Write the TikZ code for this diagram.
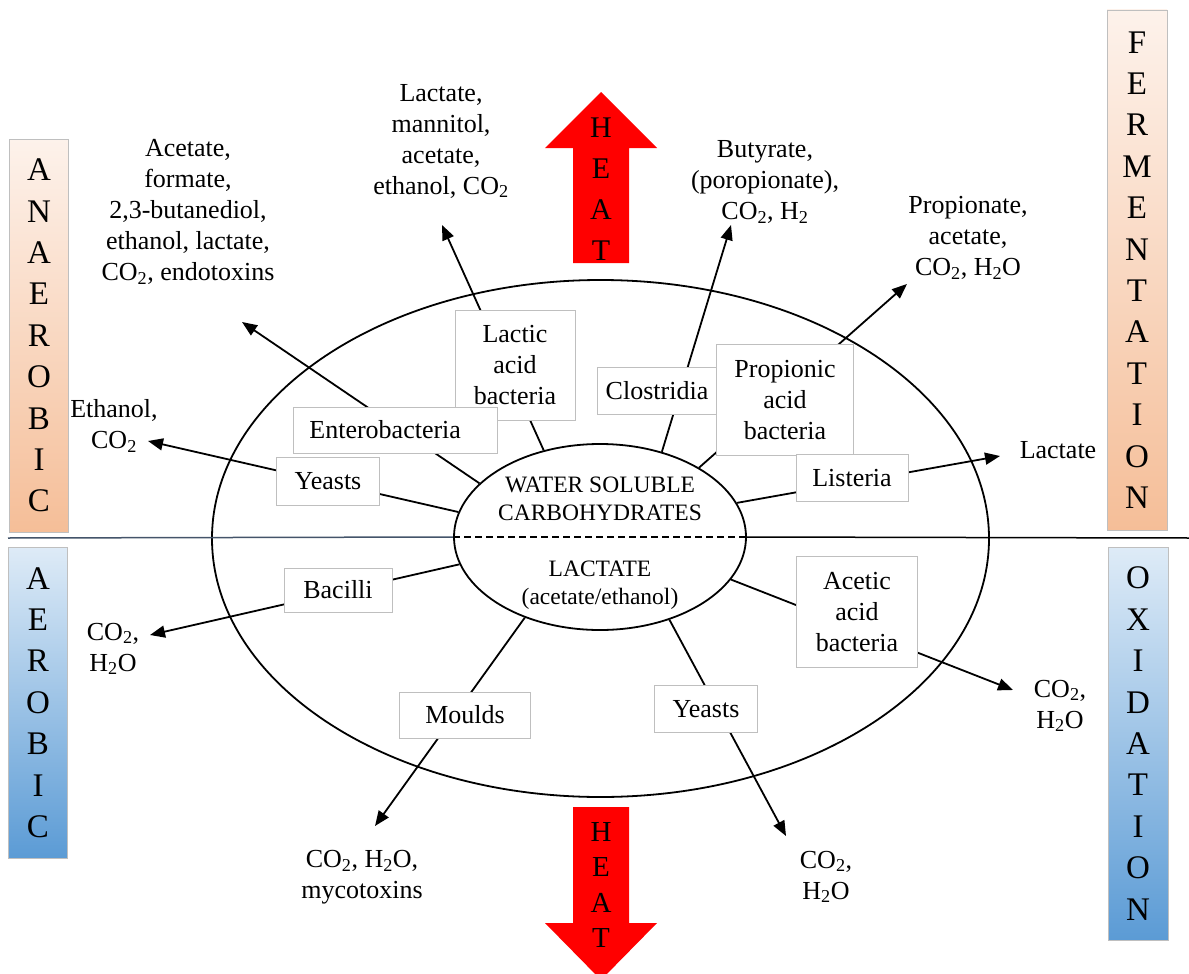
\documentclass[tikz,border=0pt]{standalone}
\usepackage{fontspec}
\setmainfont{Liberation Serif}
\usepackage{xcolor}
\usepackage{tikz}
\usetikzlibrary{shapes.geometric, arrows.meta, positioning}

\definecolor{peachtop}{RGB}{253,242,235}
\definecolor{peachbot}{RGB}{245,190,152}
\definecolor{bluetop}{RGB}{222,235,247}
\definecolor{bluebot}{RGB}{91,155,213}
\definecolor{boxgray}{RGB}{191,191,191}
\definecolor{slate}{RGB}{68,84,106}

\begin{document}
\begin{tikzpicture}[x=1pt, y=-1pt, every node/.style={font=\fontsize{26}{31}\selectfont}]
    % Styles
    \tikzstyle{microbe} = [rectangle, draw=boxgray, fill=white, line width=0.8pt, align=center, inner sep=0pt]
    \tikzstyle{product} = [align=center, inner sep=0pt]
    \tikzstyle{flow} = [line width=1.8pt, -{Triangle[length=15pt, width=12pt]}]
    \tikzstyle{sidebar} = [rectangle, draw=boxgray, line width=0.8pt, inner sep=0pt, minimum width=59pt, align=center, font=\fontsize{33}{41.4}\selectfont]
    \tikzstyle{heatarrow} = [fill=red]
    \tikzstyle{heatletters} = [align=center, inner sep=0pt]

    \useasboundingbox (0,0) rectangle (1189,974);

    % Silage ellipse and centre
    \draw[line width=1.8pt] (600.5,538.5) ellipse [x radius=388.5, y radius=258.5];
    \node[ellipse, draw, fill=white, line width=1.8pt, minimum width=292pt, minimum height=186pt, inner sep=0pt] (wsc) at (600,537) {};

    % Dividing line
    \coordinate (westend) at (8,538);
    \coordinate (eastend) at (1189,538);
    \draw[slate, line width=1.5pt] (westend) -- (wsc.west);
    \draw[line width=1.5pt] (wsc.east) -- (eastend);
    \draw[line width=1.5pt, dash pattern=on 7pt off 4pt] (wsc.west) -- (wsc.east);

    % Arrow ends
    \coordinate (tipysta) at (148,441);
    \coordinate (tipent) at (242,322);
    \coordinate (tiplab) at (442,225);
    \coordinate (tipclo) at (731,225);
    \coordinate (tippro) at (907,284);
    \coordinate (tiplis) at (1000,456);
    \coordinate (tipbac) at (150,635);
    \coordinate (tipmou) at (375,826);
    \coordinate (tipystb) at (786,836);
    \coordinate (tipace) at (1013,690);

    % Arrows
    \draw[flow] (wsc.170) -- (tipysta);
    \draw[flow] (wsc.156) -- (tipent);
    \draw[flow] (wsc.123) -- (tiplab);
    \draw[flow] (wsc.54.5) -- (tipclo);
    \draw[flow] (wsc.35) -- (tippro);
    \draw[flow] (wsc.14) -- (tiplis);
    \draw[flow] (wsc.191.5) -- (tipbac);
    \draw[flow] (wsc.227.6) -- (tipmou);
    \draw[flow] (wsc.310) -- (tipystb);
    \draw[flow] (wsc.342.5) -- (tipace);

    % Microbes
    \node[microbe, minimum width=120pt, minimum height=110pt] (lab) at (515,365) {Lactic\\acid\\bacteria};
    \node[microbe, anchor=west, text width=172pt, inner xsep=16pt, align=left, minimum height=46pt] (ent) at (293,430) {Enterobacteria};
    \node[microbe, minimum width=103pt, minimum height=48pt] (ysta) at (328,481) {Yeasts};
    \node[microbe, minimum width=120pt, minimum height=47pt] (clo) at (657,391) {Clostridia};
    \node[microbe, minimum width=137pt, minimum height=111pt] (pro) at (785,400) {Propionic\\acid\\bacteria};
    \node[microbe, minimum width=112pt, minimum height=47pt] (lis) at (852,478) {Listeria};
    \node[microbe, minimum width=108pt, minimum height=44pt] (bac) at (338,590) {Bacilli};
    \node[microbe, minimum width=131pt, minimum height=46pt] (mou) at (465,715) {Moulds};
    \node[microbe, minimum width=103pt, minimum height=47pt] (ystb) at (706,709) {Yeasts};
    \node[microbe, minimum width=121pt, minimum height=111pt] (ace) at (857,612) {Acetic\\acid\\bacteria};

    % Centre text
    \node[align=center, font=\fontsize{23.5}{28}\selectfont] (wsctext) at (600,499) {WATER SOLUBLE\\CARBOHYDRATES};
    \node[align=center, font=\fontsize{23.5}{28}\selectfont] (lactext) at (600,585) {LACTATE\\(acetate/ethanol)};

    % Products
    \node[product] (pysta) at (114,426) {Ethanol,\\CO\textsubscript{2}};
    \node[product] (pent) at (188,212) {Acetate,\\formate,\\2,3-butanediol,\\ethanol, lactate,\\CO\textsubscript{2}, endotoxins};
    \node[product] (plab) at (441,141) {Lactate,\\mannitol,\\acetate,\\ethanol, CO\textsubscript{2}};
    \node[product] (pclo) at (765,182) {Butyrate,\\(poropionate),\\CO\textsubscript{2}, H\textsubscript{2}};
    \node[product] (ppro) at (968,238) {Propionate,\\acetate,\\CO\textsubscript{2}, H\textsubscript{2}O};
    \node[product] (plis) at (1058,450) {Lactate};
    \node[product] (pbac) at (113,649) {CO\textsubscript{2},\\H\textsubscript{2}O};
    \node[product] (pmou) at (362,877) {CO\textsubscript{2}, H\textsubscript{2}O,\\mycotoxins};
    \node[product] (pystb) at (826,877) {CO\textsubscript{2},\\H\textsubscript{2}O};
    \node[product] (pace) at (1060,706) {CO\textsubscript{2},\\H\textsubscript{2}O};

    % Side bars
    \node[sidebar, top color=peachtop, bottom color=peachbot, minimum height=393pt] (anaer) at (39,335.5) {A\\N\\A\\E\\R\\O\\B\\I\\C};
    \node[sidebar, top color=bluetop, bottom color=bluebot, minimum height=311pt] (aer) at (38,702.5) {A\\E\\R\\O\\B\\I\\C};
    \node[sidebar, top color=peachtop, bottom color=peachbot, minimum height=520pt, minimum width=60pt] (ferm) at (1137,270) {F\\E\\R\\M\\E\\N\\T\\A\\T\\I\\O\\N};
    \node[sidebar, top color=bluetop, bottom color=bluebot, minimum height=393pt, minimum width=60pt] (oxid) at (1138,743.5) {O\\X\\I\\D\\A\\T\\I\\O\\N};

    % Heat
    \fill[heatarrow] (573,263) -- (573,148) -- (545,148) -- (601,92) -- (657,148) -- (629,148) -- (629,263) -- cycle;
    \node[heatletters, font=\fontsize{30}{41}\selectfont] (heatup) at (601,189) {H\\E\\A\\T};
    \fill[heatarrow] (573,807) -- (629,807) -- (629,923) -- (657,923) -- (601,980) -- (545,923) -- (573,923) -- cycle;
    \node[heatletters, font=\fontsize{29}{35.5}\selectfont] (heatdown) at (601,885) {H\\E\\A\\T};
\end{tikzpicture}
\end{document}
